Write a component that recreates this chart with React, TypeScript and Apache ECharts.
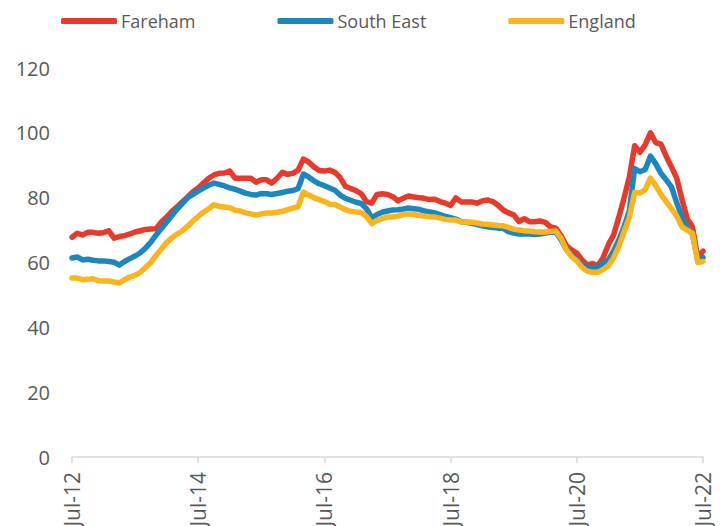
import React, { useEffect, useRef } from "react";
import * as echarts from "echarts";

const startYear = 2012;
const startMonth = 6; // July
const monthNames = ["Jan", "Feb", "Mar", "Apr", "May", "Jun", "Jul", "Aug", "Sep", "Oct", "Nov", "Dec"];
const monthCount = 121;
const categories: string[] = [];
for (let i = 0; i < monthCount; i++) {
  const mi = (startMonth + i) % 12;
  const y = startYear + Math.floor((startMonth + i) / 12);
  categories.push(monthNames[mi] + "-" + String(y).slice(2));
}

const fareham = [
  67.8, 69, 68.5, 69.3, 69.3, 69, 69.2, 69.8, 67.5, 68, 68.3, 68.8, 69.4, 69.8, 70.2, 70.3,
  70.4, 72.5, 74, 75.8, 77.2, 78.7, 80.2, 81.8, 83, 84.5, 86, 87, 87.5, 87.6, 88.2, 86,
  86, 86, 86, 84.8, 85.5, 85.5, 84.5, 86, 87.8, 87.2, 87.5, 88.5, 91.9, 91, 89.5, 88.4,
  88.2, 88.5, 87.8, 86.2, 83.5, 82.8, 82.2, 81.2, 78.8, 78.3, 81, 81.2, 81, 80.3, 79, 79.8,
  80.5, 80.2, 80, 79.8, 79.4, 79.5, 78.8, 78.3, 77.6, 79.9, 78.7, 78.7, 78.7, 78.3, 79, 79.3,
  78.8, 77.7, 76.2, 75.3, 74.7, 72.6, 73.5, 72.6, 72.6, 72.8, 72.4, 71, 70.6, 68.3, 65.2, 63.9,
  62.9, 60.8, 59.2, 59.7, 59, 61.5, 65.5, 68.5, 74, 80, 86.5, 96, 94, 96.3, 100, 97,
  96.5, 92.8, 89.5, 86, 79.5, 73.5, 71, 61.5, 63.5,
];

const southEast = [
  61.4, 61.7, 60.8, 61, 60.7, 60.5, 60.5, 60.3, 60.1, 59.2, 60.3, 61.2, 62, 63, 64.5, 66.3,
  68.5, 70.5, 72.5, 74.5, 76.5, 78.2, 80, 81, 82, 83, 83.8, 84.5, 84.1, 83.6, 83, 82.6,
  82, 81.4, 81, 80.8, 81.3, 81.2, 81, 81.3, 81.6, 82, 82.2, 82.8, 87.3, 86.4, 85.2, 84.3,
  83.7, 83, 82.3, 80.8, 79.8, 79.2, 78.6, 78.2, 76.6, 73.8, 74.8, 75.5, 75.9, 76.2, 76.3, 76.5,
  76.8, 76.6, 76.4, 75.9, 75.6, 75.3, 74.8, 74.2, 73.8, 73.4, 72.6, 72.4, 72.1, 71.7, 71.3, 71,
  70.8, 70.6, 70.6, 69.5, 69.1, 68.8, 68.8, 68.8, 68.6, 68.8, 69.1, 69.3, 69.4, 67, 64, 62.2,
  61, 59.2, 58.5, 58.4, 58.6, 59.8, 60.8, 63.5, 67, 71, 76, 89, 88, 88.7, 92.8, 90.5,
  87.5, 85.5, 83.3, 78.5, 74, 70.5, 68.7, 60.8, 61.5,
];

const england = [
  55.2, 55.2, 54.7, 54.8, 55, 54.4, 54.3, 54.3, 54, 53.7, 54.7, 55.5, 56, 57, 58.5, 60,
  62.2, 64.2, 66.2, 67.6, 68.8, 69.8, 71.2, 72.8, 74.2, 75.5, 76.6, 77.8, 77.3, 77.1, 76.9, 76.1,
  75.9, 75.3, 75, 74.6, 75, 75.3, 75.3, 75.5, 75.8, 76.3, 76.8, 77.2, 81.7, 80.8, 80, 79.4,
  78.8, 78, 77.9, 77.1, 76.3, 75.8, 75.6, 75.4, 74.2, 72, 73, 73.5, 74, 74.1, 74.3, 74.8,
  75, 74.8, 74.5, 74.3, 74.1, 74, 73.7, 73.3, 73.1, 73.1, 72.5, 72.5, 72.4, 72.2, 71.9, 71.8,
  71.6, 71.4, 71.3, 70.8, 70.3, 70, 69.8, 69.7, 69.5, 69.4, 69.4, 69.6, 69.7, 67.5, 64, 61.8,
  60.5, 58.5, 57.3, 57, 57, 57.8, 59, 61.5, 65, 69.5, 74, 81.7, 81.4, 82.4, 86, 83.8,
  81, 78.8, 76.6, 74.3, 71, 70, 69, 60, 60.3,
];

const seriesNames = ["Fareham", "South East", "England"];
const seriesColors = ["#E8392A", "#1B87C0", "#FBB41C"];
const seriesData = [fareham, southEast, england];

const FONT = "'Open Sans', 'Noto Sans', sans-serif";
const TEXT_COLOR = "#595959";

export default function App() {
  const ref = useRef<HTMLDivElement>(null);
  useEffect(() => {
    if (!ref.current) return;
    const chart = echarts.init(ref.current, null, { renderer: "svg" });
    chart.setOption({
      animation: false,
      backgroundColor: "#ffffff",
      textStyle: { fontFamily: FONT },
      legend: {
        left: 56,
        top: 7,
        itemGap: 82,
        itemWidth: 56,
        itemHeight: 6,
        icon: "roundRect",
        textStyle: { fontSize: 18, color: TEXT_COLOR, fontFamily: FONT, padding: [0, 0, 0, -1] },
        data: seriesNames,
      },
      grid: { left: 72, right: 21, top: 68, bottom: 103, containLabel: false },
      xAxis: {
        type: "category",
        data: categories,
        boundaryGap: false,
        axisLine: { show: true, lineStyle: { color: "#D9D9D9", width: 1.5 } },
        axisTick: { show: true, interval: 23, length: 6, lineStyle: { color: "#D9D9D9", width: 1.5 } },
        axisLabel: {
          interval: 23,
          rotate: 90,
          margin: 15,
          fontSize: 21,
          color: TEXT_COLOR,
          fontFamily: FONT,
        },
        splitLine: { show: false },
      },
      yAxis: {
        type: "value",
        min: 0,
        max: 120,
        interval: 20,
        axisLine: { show: false },
        axisTick: { show: false },
        splitLine: { show: false },
        axisLabel: { fontSize: 20, color: TEXT_COLOR, margin: 22, fontFamily: FONT },
      },
      series: seriesNames.map((name, i) => ({
        name,
        type: "line",
        data: seriesData[i],
        showSymbol: false,
        symbol: "none",
        smooth: false,
        lineStyle: { color: seriesColors[i], width: 5.5, cap: "round", join: "round" },
        itemStyle: { color: seriesColors[i] },
        emphasis: { disabled: true },
      })),
    });
    return () => chart.dispose();
  }, []);
  return (
    <div
      ref={ref}
      style={{ position: "absolute", left: 0, top: 0, width: 724, height: 560 }}
    />
  );
}
